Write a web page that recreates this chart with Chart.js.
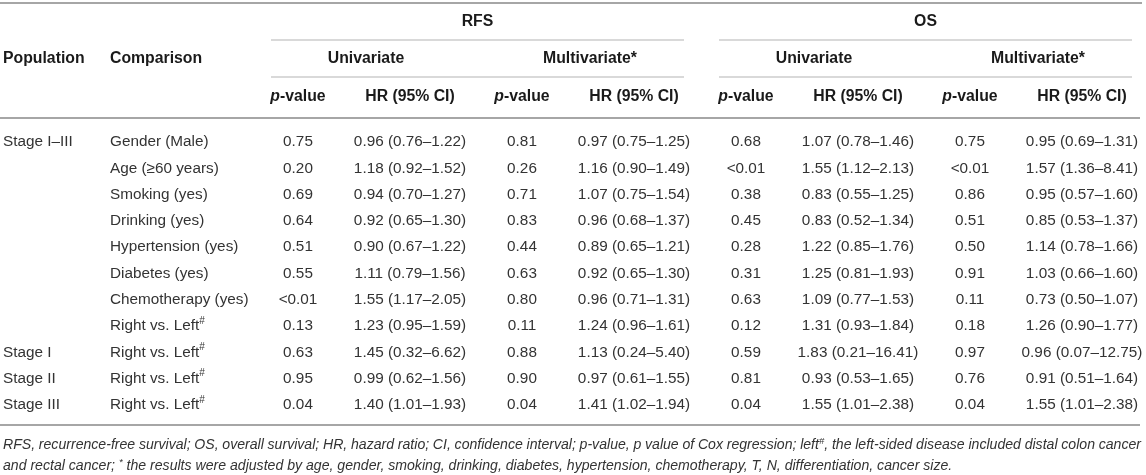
<!DOCTYPE html>
<html>
<head>
<meta charset="utf-8">
<title>RFS and OS Cox regression</title>
<script src="https://cdn.jsdelivr.net/npm/chart.js@4.4.1/dist/chart.umd.min.js"></script>
<style>
  html, body { margin: 0; padding: 0; background: #fff; }
  #wrap { width: 1146px; height: 475px; position: relative; }
</style>
</head>
<body>
<div id="wrap"><canvas id="table"></canvas></div>
<script>
// table data
const rowIds = ['r0', 'r1', 'r2', 'r3', 'r4', 'r5', 'r6', 'r7', 'r8', 'r9', 'r10'];
const populations = ['Stage I–III', '', '', '', '', '', '', '', 'Stage I', 'Stage II', 'Stage III'];
const comparisons = ['Gender (Male)', 'Age (≥60 years)', 'Smoking (yes)', 'Drinking (yes)', 'Hypertension (yes)',
  'Diabetes (yes)', 'Chemotherapy (yes)', 'Right vs. Left#', 'Right vs. Left#', 'Right vs. Left#', 'Right vs. Left#'];

const rfsUniP = ['0.75', '0.20', '0.69', '0.64', '0.51', '0.55', '<0.01', '0.13', '0.63', '0.95', '0.04'];
const rfsUniHR = ['0.96 (0.76–1.22)', '1.18 (0.92–1.52)', '0.94 (0.70–1.27)', '0.92 (0.65–1.30)', '0.90 (0.67–1.22)',
  '1.11 (0.79–1.56)', '1.55 (1.17–2.05)', '1.23 (0.95–1.59)', '1.45 (0.32–6.62)', '0.99 (0.62–1.56)', '1.40 (1.01–1.93)'];
const rfsMultiP = ['0.81', '0.26', '0.71', '0.83', '0.44', '0.63', '0.80', '0.11', '0.88', '0.90', '0.04'];
const rfsMultiHR = ['0.97 (0.75–1.25)', '1.16 (0.90–1.49)', '1.07 (0.75–1.54)', '0.96 (0.68–1.37)', '0.89 (0.65–1.21)',
  '0.92 (0.65–1.30)', '0.96 (0.71–1.31)', '1.24 (0.96–1.61)', '1.13 (0.24–5.40)', '0.97 (0.61–1.55)', '1.41 (1.02–1.94)'];
const osUniP = ['0.68', '<0.01', '0.38', '0.45', '0.28', '0.31', '0.63', '0.12', '0.59', '0.81', '0.04'];
const osUniHR = ['1.07 (0.78–1.46)', '1.55 (1.12–2.13)', '0.83 (0.55–1.25)', '0.83 (0.52–1.34)', '1.22 (0.85–1.76)',
  '1.25 (0.81–1.93)', '1.09 (0.77–1.53)', '1.31 (0.93–1.84)', '1.83 (0.21–16.41)', '0.93 (0.53–1.65)', '1.55 (1.01–2.38)'];
const osMultiP = ['0.75', '<0.01', '0.86', '0.51', '0.50', '0.91', '0.11', '0.18', '0.97', '0.76', '0.04'];
const osMultiHR = ['0.95 (0.69–1.31)', '1.57 (1.36–8.41)', '0.95 (0.57–1.60)', '0.85 (0.53–1.37)', '1.14 (0.78–1.66)',
  '1.03 (0.66–1.60)', '0.73 (0.50–1.07)', '1.26 (0.90–1.77)', '0.96 (0.07–12.75)', '0.91 (0.51–1.64)', '1.55 (1.01–2.38)'];

const colKeys = ['rfsUniP', 'rfsUniHR', 'rfsMultiP', 'rfsMultiHR', 'osUniP', 'osUniHR', 'osMultiP', 'osMultiHR'];
const columns = [rfsUniP, rfsUniHR, rfsMultiP, rfsMultiHR, osUniP, osUniHR, osMultiP, osMultiHR];
const outcomes = ['RFS', 'OS'];
const models = ['Univariate', 'Multivariate*'];

const FAMILY = "'Liberation Sans', Arial, Helvetica, sans-serif";
const font = (size, weight, style) => (style || 'normal') + ' ' + (weight || 'normal') + ' ' + size + 'px ' + FAMILY;

const BODY = font(15.3);
const HEAD = font(15.8, 'bold');
const NOTE = font(14.1, 'normal', 'italic');
const SUP_NOTE = font(9.5, 'normal', 'italic');
const SUP_BODY = font(10);

function drawRuns(ctx, runs, x, y, align) {
    let total = 0;
    runs.forEach(r => { ctx.font = r.font; r.w = ctx.measureText(r.t).width; total += r.w; });
    let cx = align === 'center' ? x - total / 2 : (align === 'right' ? x - total : x);
    runs.forEach(r => {
        ctx.font = r.font;
        ctx.fillText(r.t, cx, y + (r.dy || 0));
        cx += r.w;
    });
}

// spreads the words of a line so it fills the given width (squeezes if too long)
function drawJustified(ctx, runs, x, y, width) {
    const words = [];
    runs.forEach(r => {
        r.t.split(/( )/).forEach(part => {
            if (part !== '') words.push({ t: part, font: r.font, dy: r.dy, gap: part === ' ' });
        });
    });
    let total = 0, gaps = 0;
    words.forEach(w => { ctx.font = w.font; w.w = ctx.measureText(w.t).width; total += w.w; if (w.gap) gaps++; });
    const extra = gaps ? (width - total) / gaps : 0;
    let cx = x;
    words.forEach(w => {
        ctx.font = w.font;
        if (!w.gap) ctx.fillText(w.t, cx, y + (w.dy || 0));
        cx += w.w + (w.gap ? extra : 0);
    });
}

function hline(ctx, x1, x2, y, width, color) {
    ctx.save();
    ctx.strokeStyle = color;
    ctx.lineWidth = width;
    ctx.beginPath();
    ctx.moveTo(x1, y);
    ctx.lineTo(x2, y);
    ctx.stroke();
    ctx.restore();
}

function withMark(text, supFont) {
    const mark = text.endsWith('#') ? '#' : '';
    const base = mark ? text.slice(0, -1) : text;
    const runs = [{ t: base, font: BODY }];
    if (mark) runs.push({ t: mark, font: supFont, dy: -5 });
    return runs;
}

const tablePlugin = {
    id: 'tableText',
    afterDatasetsDraw(chart) {
        const ctx = chart.ctx;
        const area = chart.chartArea;
        const xs = chart.scales.x;
        const ys = chart.scales.y;
        const W = chart.width;

        ctx.save();
        ctx.textBaseline = 'middle';
        ctx.textAlign = 'left';

        // rules
        hline(ctx, 0, W - 4, 3, 2, '#a6a6a6');
        hline(ctx, 0, W - 6, area.top - 11, 2, '#a6a6a6');
        hline(ctx, 0, W - 6, area.bottom + 7, 2, '#a6a6a6');

        // header
        ctx.fillStyle = '#1a1a1a';
        outcomes.forEach((name, g) => {
            const x1 = xs.getPixelForValue(g * 4) - 27;
            const x2 = xs.getPixelForValue(g * 4 + 3) + 50;
            hline(ctx, x1, x2, area.top - 89, 1, '#b3b3b3');
            hline(ctx, x1, x2, area.top - 52, 1, '#b3b3b3');
            drawRuns(ctx, [{ t: name, font: HEAD }], (x1 + x2) / 2, area.top - 107, 'center');
            models.forEach((m, k) => {
                const c = g * 4 + k * 2;
                const mid = (xs.getPixelForValue(c) + xs.getPixelForValue(c + 1)) / 2 + 12;
                drawRuns(ctx, [{ t: m, font: HEAD }], mid, area.top - 70, 'center');
            });
        });
        drawRuns(ctx, [{ t: 'Population', font: HEAD }], 3, area.top - 70, 'left');
        drawRuns(ctx, [{ t: 'Comparison', font: HEAD }], 110, area.top - 70, 'left');
        colKeys.forEach((key, c) => {
            const x = xs.getPixelForValue(c);
            const runs = c % 2 === 0
                ? [{ t: 'p', font: font(15.8, 'bold', 'italic') }, { t: '-value', font: HEAD }]
                : [{ t: 'HR (95% CI)', font: HEAD }];
            drawRuns(ctx, runs, x, area.top - 32, 'center');
        });

        // body labels
        ctx.fillStyle = '#333';
        rowIds.forEach((id, i) => {
            const y = ys.getPixelForValue(i);
            if (populations[i]) drawRuns(ctx, [{ t: populations[i], font: BODY }], 3, y, 'left');
            drawRuns(ctx, withMark(comparisons[i], SUP_BODY), 110, y, 'left');
        });

        // body cells, placed at the dataset points
        chart.data.datasets.forEach((ds, d) => {
            const meta = chart.getDatasetMeta(d);
            meta.data.forEach((pt, j) => {
                drawRuns(ctx, [{ t: ds.data[j].text, font: BODY }], pt.x, pt.y, 'center');
            });
        });

        // footnote
        const y1 = area.bottom + 27;
        drawJustified(ctx, [
            { t: 'RFS, recurrence-free survival; OS, overall survival; HR, hazard ratio; CI, confidence interval; p-value, p value of Cox regression; left', font: NOTE },
            { t: '#', font: SUP_NOTE, dy: -4 },
            { t: ', the left-sided disease included distal colon cancer', font: NOTE }
        ], 3, y1, W - 8);
        drawRuns(ctx, [
            { t: 'and rectal cancer; ', font: NOTE },
            { t: '*', font: SUP_NOTE, dy: -4 },
            { t: ' the results were adjusted by age, gender, smoking, drinking, diabetes, hypertension, chemotherapy, T, N, differentiation, cancer size.', font: NOTE }
        ], 3, y1 + 21, 'left');

        ctx.restore();
    }
};

new Chart(document.getElementById('table').getContext('2d'), {
    type: 'scatter',
    data: {
        datasets: columns.map((vals, c) => ({
            label: colKeys[c],
            data: rowIds.map((id, i) => ({ x: colKeys[c], y: id, text: vals[i] })),
            pointRadius: 0,
            pointHoverRadius: 0
        }))
    },
    options: {
        responsive: true,
        maintainAspectRatio: false,
        animation: false,
        events: [],
        layout: { padding: { top: 129, right: 8, bottom: 57, left: 242 } },
        scales: {
            x: { type: 'category', labels: colKeys, offset: true, display: false },
            y: { type: 'category', labels: rowIds, offset: true, display: false }
        },
        plugins: {
            legend: { display: false },
            tooltip: { enabled: false }
        }
    },
    plugins: [tablePlugin]
});
</script>
</body>
</html>
